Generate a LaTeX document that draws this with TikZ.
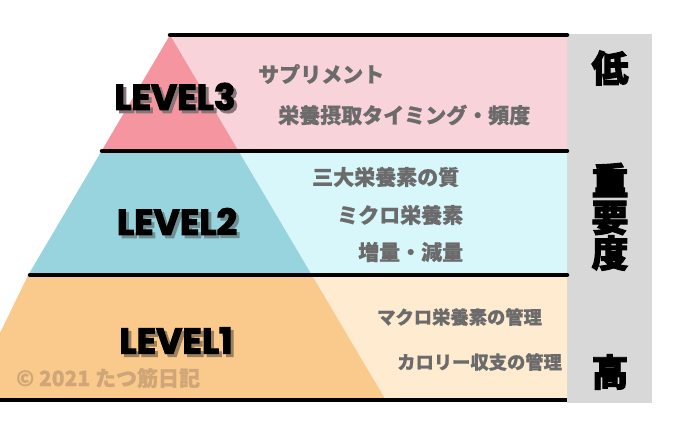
\documentclass[tikz,border=0pt]{standalone}
\usepackage{fontspec}
\newfontfamily\jp{Noto Sans CJK JP}[BoldFeatures={FakeBold=0.8}]
\newfontfamily\jpheavy{Noto Sans CJK JP}[BoldFeatures={FakeBold=2.5}]
\newfontfamily\lvlfont{Poppins}[BoldFeatures={FakeBold=3}]
\definecolor{pinkD}{HTML}{F4959F}
\definecolor{pinkL}{HTML}{F8D3D9}
\definecolor{blueD}{HTML}{98D4DE}
\definecolor{blueL}{HTML}{D7F7FA}
\definecolor{orangeD}{HTML}{FAC98C}
\definecolor{orangeL}{HTML}{FEEBD0}
\definecolor{grayC}{HTML}{D8D8D8}
\definecolor{txtgray}{HTML}{6B6B6B}
\definecolor{copy}{HTML}{CFA677}
\definecolor{shadowA}{HTML}{8A7478}
\definecolor{shadowB}{HTML}{6F8F94}
\definecolor{shadowC}{HTML}{9A7F5C}
\newcommand{\shadowtext}[2]{\makebox[0pt][l]{\hspace{3pt}\raisebox{-3pt}{\textcolor{#1}{#2}}}#2}
\tikzset{
  sepline/.style={line width=4.5pt, line cap=round, black},
  jtxt/.style={anchor=west, inner sep=0pt, text=txtgray, font=\jp\bfseries\fontsize{21}{21}\selectfont},
  jtxtsmall/.style={jtxt, font=\jp\bfseries\fontsize{18.3}{18.3}\selectfont},
  lvl/.style={inner sep=0pt, font=\lvlfont\bfseries\fontsize{36}{36}\selectfont},
  importance/.style={inner sep=0pt, font=\jpheavy\bfseries\fontsize{37}{37}\selectfont}
}
\begin{document}
\begin{tikzpicture}[x=1pt,y=-1pt]
\useasboundingbox (0,0) rectangle (700,433);
% gray column
\fill[grayC] (567,34) rectangle (652,403);
% backgrounds
\fill[pinkL] (170,35) -- (567,35) -- (567,151) -- (238.5,151) -- cycle;
\fill[blueL] (238.5,151) -- (567,151) -- (567,275) -- (311.8,275) -- cycle;
\fill[orangeL] (311.8,275) -- (567,275) -- (567,400) -- (385.7,400) -- cycle;
% pyramid
\fill[pinkD] (170,35) -- (238.5,151) -- (101.5,151) -- cycle;
\fill[blueD] (101.5,151) -- (238.5,151) -- (311.8,275) -- (28.2,275) -- cycle;
\fill[orangeD] (28.2,275) -- (311.8,275) -- (385.7,400) -- (0,400) -- (0,333) -- cycle;
% separator lines
\coordinate (l1a) at (170,35);   \coordinate (l1b) at (567,35);
\coordinate (l2a) at (102,151);  \coordinate (l2b) at (567,151);
\coordinate (l3a) at (30,275);   \coordinate (l3b) at (567,275);
\coordinate (l4a) at (0,400);    \coordinate (l4b) at (567,400);
\draw[sepline] (l1a) -- (l1b);
\draw[sepline] (l2a) -- (l2b);
\draw[sepline] (l3a) -- (l3b);
\draw[sepline, line cap=butt] (l4a) -- (l4b);
% level labels with shadow
\node[lvl] (lv3) at (175,98) {\shadowtext{shadowA}{LEVEL3}};
\node[lvl] (lv2) at (177,223) {\shadowtext{shadowB}{LEVEL2}};
\node[lvl] (lv1) at (176,342) {\shadowtext{shadowC}{LEVEL1}};
% texts
\node[jtxt] (t31) at (258,74) {サプリメント};
\node[jtxt] (t32) at (278,115) {栄養摂取タイミング・頻度};
\node[jtxt] (t21) at (312,177) {三大栄養素の質};
\node[jtxt] (t22) at (337,215) {ミクロ栄養素};
\node[jtxt] (t23) at (358,252) {増量・減量};
\node[jtxtsmall] (t11) at (377,317) {マクロ栄養素の管理};
\node[jtxtsmall] (t12) at (397,362) {カロリー収支の管理};
% copyright
\node[anchor=west, inner sep=0pt, text=copy, font=\jp\bfseries\fontsize{21}{21}\selectfont] (cp) at (16,378) {© 2021 たつ筋日記};
% importance
\node[importance] (low) at (610,68) {低};
\node[importance] (i1) at (610,180) {重};
\node[importance] (i2) at (610,218) {要};
\node[importance] (i3) at (610,253) {度};
\node[importance] (high) at (610,372) {高};
\end{tikzpicture}
\end{document}
